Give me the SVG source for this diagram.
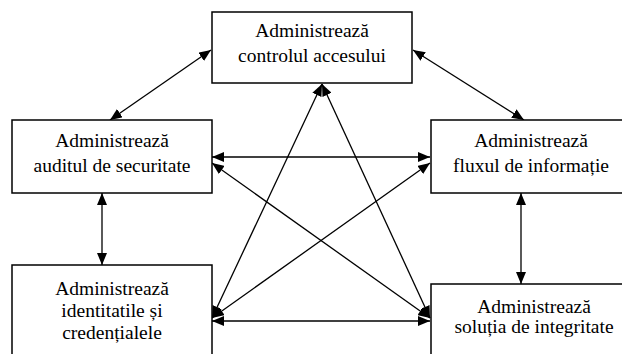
<svg xmlns="http://www.w3.org/2000/svg" width="622" height="354" viewBox="0 0 622 354">
<style>
.box{fill:#fff;stroke:#000;stroke-width:1.5}
.t{font-family:'Liberation Serif','DejaVu Serif',serif;font-size:19.5px;text-anchor:middle;fill:#000}
.c{stroke:#000;stroke-width:1.3;fill:none;marker-start:url(#a);marker-end:url(#a)}
</style>
<defs>
<marker id="a" viewBox="0 0 12 10" refX="12" refY="5" markerWidth="12" markerHeight="10" markerUnits="userSpaceOnUse" orient="auto-start-reverse">
<path d="M0,0 L12,5 L0,10 Z" fill="#000"/>
</marker>
</defs>
<g id="connectors">
<line class="c" x1="211" y1="50" x2="110" y2="120"/>
<line class="c" x1="413" y1="50" x2="524" y2="120"/>
<line class="c" x1="102" y1="193" x2="102" y2="265"/>
<line class="c" x1="521" y1="193" x2="521" y2="284"/>
<line class="c" x1="212" y1="157" x2="430" y2="157"/>
<line class="c" x1="212" y1="321" x2="430" y2="321"/>
<line class="c" x1="322" y1="84" x2="212" y2="318"/>
<line class="c" x1="322" y1="84" x2="430" y2="318"/>
<line class="c" x1="212" y1="163" x2="430" y2="318"/>
<line class="c" x1="430" y1="163" x2="212" y2="318"/>
</g>
<g id="n1">
<rect class="box" x="212" y="12" width="200" height="71"/>
<text class="t" x="312" y="37">Administrează</text>
<text class="t" x="312" y="62">controlul accesului</text>
</g>
<g id="n2">
<rect class="box" x="12" y="120" width="200" height="73"/>
<text class="t" x="112" y="147">Administrează</text>
<text class="t" x="112" y="172">auditul de securitate</text>
</g>
<g id="n3">
<rect class="box" x="431" y="120" width="200" height="73"/>
<text class="t" x="531" y="147">Administrează</text>
<text class="t" x="531" y="172">fluxul de informație</text>
</g>
<g id="n4">
<rect class="box" x="12" y="265" width="200" height="100"/>
<text class="t" x="112" y="295">Administrează</text>
<text class="t" x="112" y="317">identitatile și</text>
<text class="t" x="112" y="339">credențialele</text>
</g>
<g id="n5">
<rect class="box" x="431" y="284" width="200" height="80"/>
<text class="t" x="534" y="313">Administrează</text>
<text class="t" x="534" y="333">soluția de integritate</text>
</g>
</svg>
